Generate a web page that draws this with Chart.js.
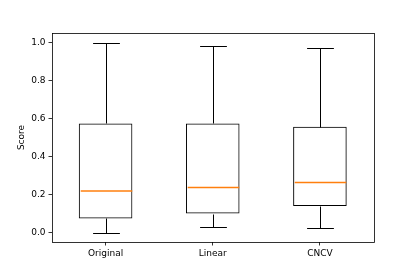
<!DOCTYPE html>
<html>
<head>
<meta charset="utf-8">
<script src="https://cdn.jsdelivr.net/npm/chart.js@4"></script>
<style>
html,body{margin:0;padding:0;background:#fff;}
#wrap{width:415px;height:277px;position:relative;}
</style>
</head>
<body>
<div id="wrap"><canvas id="c" width="415" height="277"></canvas></div>
<script>
const categories = ['Original', 'Linear', 'CNCV'];
const mins    = [0.0,   0.028, 0.024];
const q1s     = [0.074, 0.100, 0.140];
const medians = [0.218, 0.237, 0.263];
const q3s     = [0.574, 0.574, 0.556];
const maxs    = [1.0,   0.979, 0.973];
const yTicks  = [0.0, 0.2, 0.4, 0.6, 0.8, 1.0];

const FONT = {family: 'DejaVu Sans', size: 9};

const boxPlugin = {
  id: 'boxparts',
  afterDatasetsDraw(chart) {
    const ctx = chart.ctx;
    const xs = chart.scales.x, ys = chart.scales.y;
    const unit = xs.getPixelForValue(1) - xs.getPixelForValue(0);
    const half = unit * 0.25, capHalf = unit * 0.125;
    const snap = v => Math.round(v) + 0.5;
    ctx.save();
    ctx.globalAlpha = 1;
    ctx.lineWidth = 1;
    for (let i = 0; i < categories.length; i++) {
      const x = snap(xs.getPixelForValue(i));
      ctx.strokeStyle = '#000000';
      ctx.beginPath();
      ctx.moveTo(x, snap(ys.getPixelForValue(q3s[i])));
      ctx.lineTo(x, snap(ys.getPixelForValue(maxs[i])));
      ctx.moveTo(x, snap(ys.getPixelForValue(q1s[i])));
      ctx.lineTo(x, snap(ys.getPixelForValue(mins[i])));
      ctx.moveTo(x - capHalf, snap(ys.getPixelForValue(maxs[i])));
      ctx.lineTo(x + capHalf, snap(ys.getPixelForValue(maxs[i])));
      ctx.moveTo(x - capHalf, snap(ys.getPixelForValue(mins[i])));
      ctx.lineTo(x + capHalf, snap(ys.getPixelForValue(mins[i])));
      ctx.stroke();
    }
    for (let i = 0; i < categories.length; i++) {
      const x = snap(xs.getPixelForValue(i));
      ctx.strokeStyle = 'rgb(255,127,14)';
      ctx.lineWidth = 1.5;
      ctx.beginPath();
      ctx.moveTo(x - half + 1, ys.getPixelForValue(medians[i]));
      ctx.lineTo(x + half - 1, ys.getPixelForValue(medians[i]));
      ctx.stroke();
    }
    const a = chart.chartArea;
    ctx.strokeStyle = '#000';
    ctx.lineWidth = 0.8;
    ctx.strokeRect(Math.round(a.left) + 0.5, Math.round(a.top) + 0.5,
                   Math.round(a.right - a.left), Math.round(a.bottom - a.top));
    ctx.restore();
  }
};

new Chart(document.getElementById('c'), {
  type: 'bar',
  data: {
    labels: categories,
    datasets: [{
      data: categories.map((_, i) => [q1s[i], q3s[i]]),
      backgroundColor: 'rgba(0,0,0,0)',
      borderColor: '#000',
      borderWidth: 1,
      borderSkipped: false,
      categoryPercentage: 1.0,
      barPercentage: 0.5
    }]
  },
  options: {
    responsive: false,
    animation: false,
    devicePixelRatio: 1,
    layout: {padding: {left: 0, right: 41.5, top: 33, bottom: 0}},
    plugins: {legend: {display: false}, tooltip: {enabled: false}},
    scales: {
      x: {
        offset: true,
        grid: {display: true, drawOnChartArea: false, offset: false, tickLength: 3.5, tickColor: '#000', tickWidth: 0.8},
        border: {display: false},
        ticks: {color: '#000', font: FONT, padding: 3},
        afterFit(s) { s.height = 35; }
      },
      y: {
        min: -0.05, max: 1.05,
        afterBuildTicks(s) { s.ticks = yTicks.map(v => ({value: v})); },
        grid: {display: true, drawOnChartArea: false, tickLength: 3.5, tickColor: '#000', tickWidth: 0.8},
        border: {display: false},
        ticks: {color: '#000', font: FONT, padding: 3, callback: v => Number(v).toFixed(1)},
        title: {display: true, text: 'Score', color: '#000', font: FONT, padding: {top: 16, bottom: 0}},
        afterFit(s) { s.width = 52; }
      }
    }
  },
  plugins: [boxPlugin]
});
</script>
</body>
</html>
